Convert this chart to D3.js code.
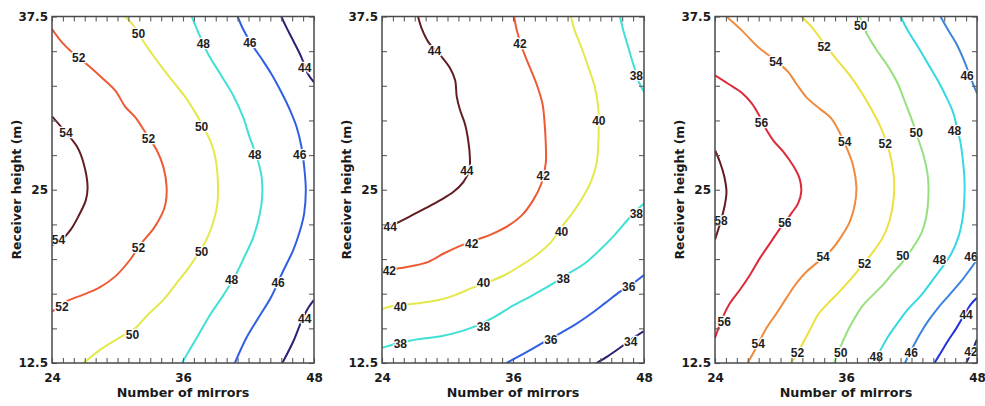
<!DOCTYPE html>
<html>
<head>
<meta charset="utf-8">
<script src="https://cdn.jsdelivr.net/npm/d3@7"></script>
<style>
  body { margin: 0; background: #fff; }
</style>
</head>
<body>
<svg id="chart" width="985" height="406"></svg>
<script>
// axis values
let xTickLabels = [24, 36, 48];
let yTickLabels = [12.5, 25, 37.5];
let xLabel = "Number of mirrors";
let yLabel = "Receiver height (m)";

// contour lines: [level, [[mirrors, height], ...]]
let p1Contours = [
    [54, [[24,30.3],[25.2,29.2],[26.3,28.1],[26.9,26.9],[27.26,25.2],[27.1,24.25],[26.4,23.05],[25.7,22.1],[24.9,21.4],[24,21.0]]],
    [52, [[24,36.6],[24.9,35.65],[26.0,34.8],[27.35,33.95],[28.55,33.1],[29.8,32.15],[30.7,31.0],[31.6,30.25],[32.5,29.2],[33.6,27.85],[34.2,26.65],[34.5,25.2],[34.4,24.0],[34.05,23.2],[33.3,22.2],[32.2,21.15],[31.15,19.95],[29.8,18.75],[28.25,17.9],[26.75,17.4],[25.35,16.95],[24,16.2]]],
    [50, [[30.7,37.5],[31.45,36.85],[32.5,35.55],[34.05,33.85],[35.25,32.65],[36.2,31.7],[37.1,30.6],[37.85,29.55],[38.6,28.35],[39.0,27.15],[39.2,25.45],[39.15,24.0],[38.75,22.6],[38.15,21.4],[37.4,20.4],[36.5,19.35],[35.4,18.25],[34.2,17.05],[32.8,16.0],[31.6,15.0],[30.1,14.3],[28.4,13.45],[26.9,12.5]]],
    [48, [[36.8,37.5],[37.4,36.35],[38.3,34.8],[39.5,33.25],[40.6,31.8],[41.5,30.25],[42.1,28.8],[42.75,27.4],[43.2,25.95],[43.25,24.5],[43.05,23.3],[42.45,21.6],[41.65,20.2],[40.75,18.75],[39.7,17.4],[38.5,16.0],[37.25,14.3],[35.9,12.5]]],
    [46, [[41.0,37.5],[41.5,36.6],[42.25,35.55],[43.2,34.45],[44.1,33.35],[45.0,32.05],[45.8,30.75],[46.4,29.55],[46.85,28.1],[47.1,26.65],[47.25,25.0],[47.1,23.3],[46.7,22.0],[46.1,20.65],[45.15,19.1],[44.1,17.3],[42.9,15.75],[41.8,14.3],[40.75,12.5]]],
    [44, [[45.0,37.5],[45.45,36.75],[46.1,35.75],[46.85,34.55],[47.45,33.35],[48,32.75]]],
    [44, [[48,17.05],[47.45,16.45],[46.85,15.5],[46.1,14.05],[45.1,12.5]]]
];
let p1Labels = [[52,26.44,34.52],[50,31.92,36.25],[48,37.86,35.53],[46,42.12,35.6],[44,47.15,33.8],
    [54,25.28,29.1],[52,32.83,28.7],[50,37.7,29.53],[48,42.58,27.5],[46,46.69,27.5],
    [54,24.6,21.38],[52,31.92,20.85],[50,37.7,20.54],[48,40.45,18.54],[46,44.71,18.26],
    [52,24.91,16.53],[50,31.37,14.54],[44,47.15,15.67]];

let p2Contours = [
    [44, [[27.3,37.5],[27.65,36.6],[28.25,35.65],[29.35,34.7],[30.25,33.75],[30.7,32.9],[30.85,31.7],[31.15,30.75],[31.6,29.75],[31.9,28.55],[32.05,27.35],[32.0,26.4],[31.45,25.55],[30.55,24.85],[29.35,24.25],[27.95,23.65],[26.6,23.1],[25.35,22.6],[24,22.2]]],
    [42, [[36.1,37.5],[36.35,36.5],[36.8,35.3],[37.4,34.1],[38.15,32.65],[38.7,31.2],[38.9,29.75],[39.0,28.35],[39.0,26.9],[38.6,25.45],[37.85,24.25],[36.8,23.15],[35.55,22.4],[34.05,21.8],[32.55,21.35],[31.0,20.9],[29.65,20.4],[28.25,19.8],[26.75,19.5],[25.2,19.3],[24,19.25]]],
    [40, [[41.3,37.5],[41.65,36.5],[42.25,35.3],[42.9,33.85],[43.5,32.4],[43.8,30.95],[43.85,29.55],[43.8,28.1],[43.65,26.9],[43.2,25.7],[42.5,24.6],[41.65,23.55],[40.6,22.45],[39.4,21.15],[38.0,20.2],[36.65,19.5],[35.25,18.85],[33.75,18.35],[32.2,17.9],[30.7,17.4],[29.2,17.05],[27.65,16.85],[26.1,16.7],[24.9,16.6],[24,16.4]]],
    [38, [[45.8,37.5],[46.1,36.5],[46.55,35.3],[47.0,34.1],[47.6,32.65],[48,32.05]]],
    [38, [[48,24.0],[47.15,23.4],[46.25,22.6],[45.15,21.6],[43.95,20.65],[42.6,19.7],[41.2,19.0],[39.5,18.15],[37.7,17.35],[35.9,16.6],[34.35,15.85],[32.85,15.25],[31.3,14.8],[29.5,14.45],[27.65,14.25],[25.85,14.0],[24,13.6]]],
    [36, [[48,18.85],[47.0,18.25],[45.8,17.65],[44.4,16.8],[43.05,16.0],[41.65,15.25],[40.45,14.7],[38.9,14.05],[37.4,13.35],[35.4,12.5]]],
    [34, [[48,14.8],[47.0,14.3],[45.8,13.6],[44.7,13.0],[43.65,12.5]]]
];
let p2Labels = [[44,28.81,35.05],[42,36.64,35.53],[38,47.3,33.25],[40,43.86,30.0],
    [44,31.77,26.41],[42,38.77,26.0],[38,47.3,23.3],[44,24.76,22.34],[40,40.45,21.98],
    [42,32.22,21.14],[42,24.67,19.15],[40,33.29,18.26],[38,40.6,18.6],[36,46.6,18.02],
    [40,25.68,16.58],[38,33.29,15.1],[36,39.47,14.18],[34,46.78,14.06],[38,25.68,13.9]];

let p3Contours = [
    [58, [[24,27.85],[24.45,27.0],[24.85,25.95],[25.05,24.85],[24.9,23.9],[24.55,22.8],[24,21.4]]],
    [56, [[24,33.25],[25.2,32.65],[26.45,32.0],[27.35,31.25],[27.95,30.5],[28.55,29.55],[29.35,28.55],[30.25,27.75],[31.15,26.75],[31.75,25.8],[31.9,24.85],[31.6,24.0],[31.0,23.3],[29.95,22.2],[29.05,21.15],[28.1,20.05],[27.2,18.85],[26.3,17.8],[25.35,16.8],[24.6,15.6],[24,14.3]]],
    [54, [[25.05,37.5],[26.45,36.5],[27.95,35.3],[29.5,34.35],[30.7,33.5],[31.45,32.65],[32.4,31.65],[33.6,30.85],[34.65,30.15],[35.4,29.15],[36.1,27.95],[36.65,26.75],[36.95,25.2],[36.8,23.9],[36.35,22.7],[35.55,21.6],[34.65,20.65],[33.45,19.8],[32.4,19.1],[31.45,18.25],[30.55,17.2],[29.65,16.1],[28.7,15.0],[27.9,13.8],[27.0,12.5]]],
    [52, [[31.9,37.5],[32.85,36.75],[33.9,35.65],[35.1,34.45],[36.35,33.25],[37.4,32.05],[38.3,30.85],[39.1,29.65],[39.7,28.45],[40.15,27.15],[40.4,25.7],[40.35,24.25],[40.0,22.8],[39.4,21.6],[38.6,20.65],[37.55,19.6],[36.5,18.6],[35.4,17.65],[34.35,16.8],[33.45,16.0],[32.7,14.9],[32.05,13.95],[31.45,13.1],[30.95,12.5]]],
    [50, [[37.25,37.5],[37.85,36.35],[38.75,35.15],[39.85,33.9],[40.75,32.65],[41.4,31.35],[42.05,30.0],[42.6,28.7],[43.15,27.35],[43.5,25.95],[43.55,24.5],[43.35,23.05],[42.9,21.85],[42.1,20.8],[41.2,19.8],[40.3,19.0],[39.4,18.15],[38.45,17.4],[37.55,16.65],[36.8,15.75],[36.2,14.9],[35.65,13.95],[35.25,13.2],[34.9,12.5]]],
    [48, [[41.0,37.5],[41.65,36.5],[42.6,35.3],[43.5,34.1],[44.4,32.9],[45.15,31.75],[45.8,30.6],[46.15,29.55],[46.5,28.35],[46.7,27.15],[46.85,25.8],[46.85,24.5],[46.7,23.05],[46.3,21.6],[45.65,20.4],[44.85,19.45],[43.95,18.5],[42.9,17.4],[41.65,16.35],[40.6,15.25],[39.7,14.2],[39.0,13.2],[38.45,12.5]]],
    [46, [[44.65,37.5],[45.3,36.6],[46.1,35.55],[46.8,34.35],[47.45,33.0],[48,31.95]]],
    [46, [[48,19.95],[47.45,19.35],[46.55,18.4],[45.45,17.4],[44.4,16.45],[43.5,15.5],[42.75,14.55],[42.1,13.6],[41.4,12.5]]],
    [44, [[48,17.2],[47.45,16.75],[46.85,16.0],[46.1,15.0],[45.3,14.05],[44.65,13.2],[44.1,12.5]]],
    [42, [[48,14.2],[47.6,13.45],[47.0,12.5]]]
];
let p3Labels = [[50,37.34,36.85],[52,33.99,35.34],[54,29.57,34.21],[46,47.09,33.23],
    [56,28.26,29.85],[50,42.43,29.1],[48,45.93,29.25],[54,35.88,28.45],[52,39.6,28.29],
    [58,24.55,22.77],[56,30.4,22.62],[50,41.21,20.22],[54,33.9,20.18],[48,44.56,19.99],
    [46,47.45,20.18],[52,37.7,19.65],[44,47.0,15.98],[56,24.85,15.5],[54,27.96,13.87],
    [52,31.55,13.27],[50,35.52,13.27],[48,38.77,12.98],[46,41.98,13.22],[42,47.45,13.34]];

// line colours per level (jet-like)
let colors1 = {44: "#2b2274", 46: "#2f5fe2", 48: "#3fe0d6", 50: "#e4e84a", 52: "#ee5a34", 54: "#631c24"};
let colors2 = {34: "#2b2274", 36: "#2f5fe2", 38: "#3fe0d6", 40: "#e4e84a", 42: "#ee5a34", 44: "#631c24"};
let colors3 = {42: "#2a2294", 44: "#2530e2", 46: "#3c84dc", 48: "#36d8e4", 50: "#96e07e", 52: "#ece03c",
    54: "#f08a3c", 56: "#dc2a3a", 58: "#631a20"};

let plotTop = 16.5, plotBottom = 363;
let panels = [
    {left: 52, right: 314, contours: p1Contours, labels: p1Labels, colors: colors1},
    {left: 382, right: 644, contours: p2Contours, labels: p2Labels, colors: colors2},
    {left: 715, right: 977, contours: p3Contours, labels: p3Labels, colors: colors3}
];

let svg = d3.select("#chart");
let axisFont = "'DejaVu Sans', sans-serif";

function drawPanel(p, i) {
    let g = svg.append("g");

    let xScale = d3.scaleLinear().domain([24, 48]).range([p.left, p.right]);
    let yScale = d3.scaleLinear().domain([12.5, 37.5]).range([plotBottom, plotTop]);

    g.append("clipPath")
        .attr("id", "clip" + i)
        .append("rect")
        .attr("x", p.left)
        .attr("y", plotTop)
        .attr("width", p.right - p.left)
        .attr("height", plotBottom - plotTop);

    // contour lines
    let line = d3.line()
        .x(d => xScale(d[0]))
        .y(d => yScale(d[1]))
        .curve(d3.curveCatmullRom.alpha(0.5));

    g.append("g")
        .attr("clip-path", "url(#clip" + i + ")")
        .selectAll("path")
        .data(p.contours)
        .enter()
        .append("path")
        .attr("d", d => line(d[1]))
        .attr("fill", "none")
        .attr("stroke", d => p.colors[d[0]])
        .attr("stroke-width", 2)
        .attr("stroke-linejoin", "round");

    // contour labels, white halo breaks the line like clabel does
    g.append("g")
        .selectAll("text")
        .data(p.labels)
        .enter()
        .append("text")
        .attr("x", d => xScale(d[1]))
        .attr("y", d => yScale(d[2]))
        .attr("dy", "0.36em")
        .attr("text-anchor", "middle")
        .style("font-family", "'Liberation Sans', Arial, sans-serif")
        .style("font-weight", "bold")
        .style("font-size", "12px")
        .style("fill", "#1e1e1e")
        .style("stroke", "#fff")
        .style("stroke-width", 2.5)
        .style("paint-order", "stroke")
        .text(d => d[0]);

    // axes: minor ticks every mirror / every 2.5 m, labels only on a few
    let xMinor = d3.range(24, 48.01, 1);
    let yMinor = d3.range(12.5, 37.51, 2.5);
    let xFmt = d => xTickLabels.includes(d) ? d : "";
    let yFmt = d => yTickLabels.includes(d) ? d : "";

    let bottomAxis = g.append("g")
        .attr("transform", "translate(0," + plotBottom + ")")
        .call(d3.axisBottom(xScale).tickValues(xMinor).tickFormat(xFmt).tickSize(-5).tickPadding(10));
    let topAxis = g.append("g")
        .attr("transform", "translate(0," + plotTop + ")")
        .call(d3.axisTop(xScale).tickValues(xMinor).tickFormat("").tickSize(-5));
    let leftAxis = g.append("g")
        .attr("transform", "translate(" + p.left + ",0)")
        .call(d3.axisLeft(yScale).tickValues(yMinor).tickFormat(yFmt).tickSize(-5).tickPadding(4));
    let rightAxis = g.append("g")
        .attr("transform", "translate(" + p.right + ",0)")
        .call(d3.axisRight(yScale).tickValues(yMinor).tickFormat("").tickSize(-5));

    [bottomAxis, topAxis, leftAxis, rightAxis].forEach(function(a) {
        a.select(".domain").remove();
        a.selectAll("line").attr("stroke", "#5e5e5e").attr("stroke-width", 1.1);
        a.selectAll("text")
            .style("font-family", axisFont)
            .style("font-weight", "bold")
            .style("font-size", "12px")
            .style("fill", "#1a1a1a");
    });

    // frame
    g.append("rect")
        .attr("x", p.left)
        .attr("y", plotTop)
        .attr("width", p.right - p.left)
        .attr("height", plotBottom - plotTop)
        .attr("fill", "none")
        .attr("stroke", "#4a4a4a")
        .attr("stroke-width", 1.5);

    // axis titles
    g.append("text")
        .attr("x", (p.left + p.right) / 2)
        .attr("y", 393)
        .attr("dy", "0.35em")
        .attr("text-anchor", "middle")
        .style("font-family", axisFont)
        .style("font-weight", "bold")
        .style("font-size", "12.7px")
        .style("fill", "#1a1a1a")
        .text(xLabel);

    g.append("text")
        .attr("transform", "translate(" + (p.left - 35) + "," + ((plotTop + plotBottom) / 2) + ") rotate(-90)")
        .attr("dy", "0.35em")
        .attr("text-anchor", "middle")
        .style("font-family", axisFont)
        .style("font-weight", "bold")
        .style("font-size", "12.5px")
        .style("fill", "#1a1a1a")
        .text(yLabel);
}

panels.forEach(drawPanel);
</script>
</body>
</html>
